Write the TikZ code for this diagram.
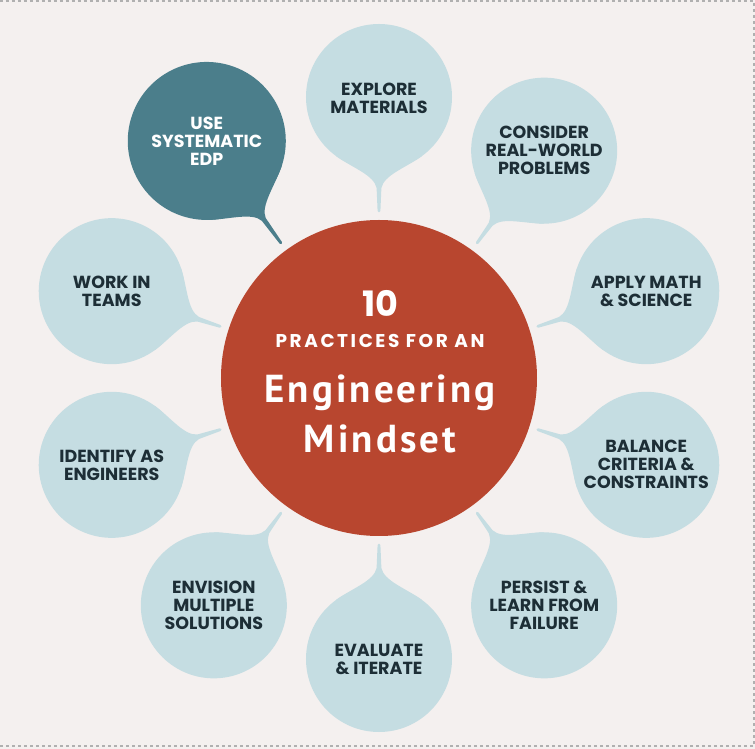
\documentclass[tikz,border=0pt]{standalone}
\usepackage{fontspec}
\newfontfamily\labfont{Poppins}
\newfontfamily\engfont{PT Sans}
\definecolor{bgc}{HTML}{F4F0EF}
\definecolor{light}{HTML}{C5DDE2}
\definecolor{dark}{HTML}{4B7E8B}
\definecolor{redc}{HTML}{B8462F}
\definecolor{ink}{HTML}{1D2E36}
\definecolor{dash}{HTML}{B0B0B0}
\tikzset{
  lab/.style={align=center, text=ink, font=\labfont\bfseries\fontsize{17.5}{18}\selectfont, inner sep=0pt},
  labw/.style={lab, text=white},
  border/.style={draw=dash, line width=1.4pt, dash pattern=on 3pt off 3pt},
  ctext/.style={anchor=base, text=white, inner sep=0pt},
}
% #1 angle, #2 distance, #3 radius, #4 colour
\newcommand\bubshape[4]{%
  \begin{scope}[shift={(#1:#2)}, rotate=#1+180]
    \fill[#4] (0,0) circle[radius=#3pt];
    \fill[#4] (36:#3) .. controls +(-54:20) and (#3+5,5) .. (#3+18,2.4)
      -- (#2-167,1.4) arc[start angle=90,end angle=-90,radius=1.4]
      -- (#3+18,-2.4) .. controls (#3+5,-5) and +(54:20) .. (-36:#3) -- cycle;
  \end{scope}}
\begin{document}
\begin{tikzpicture}[x=1pt,y=1pt]
  \useasboundingbox (-379,-371) rectangle (376,378);
  \fill[bgc] (-379,-371) rectangle (376,378);
  \draw[border] (-379,377) -- (375,377) -- (375,-368) -- (-379,-368);
  % centre
  \node[circle, fill=redc, minimum size=316pt, inner sep=0pt] (c) at (0,0) {};
  % bubbles
  \bubshape{90}{281}{73}{light}
  \bubshape{54}{281}{73}{light}
  \bubshape{18}{281}{73}{light}
  \bubshape{-18}{281}{73}{light}
  \bubshape{-54}{281}{73}{light}
  \bubshape{-90}{281}{73}{light}
  \bubshape{-126}{281}{73}{light}
  \bubshape{-162}{281}{73}{light}
  \bubshape{162}{281}{73}{light}
  \bubshape{126}{293}{79}{dark}
  \node[lab] (b1) at (90:280) {EXPLORE\\MATERIALS};
  \node[lab] (b2) at (54:281) {CONSIDER\\REAL-WORLD\\PROBLEMS};
  \node[lab] (b3) at (18:281) {APPLY MATH\\\& SCIENCE};
  \node[lab] (b4) at (-18:281) {BALANCE\\CRITERIA \&\\CONSTRAINTS};
  \node[lab] (b5) at (-54:281) {PERSIST \&\\LEARN FROM\\FAILURE};
  \node[lab] (b6) at (-90:281) {EVALUATE\\\& ITERATE};
  \node[lab] (b7) at (-126:281) {ENVISION\\MULTIPLE\\SOLUTIONS};
  \node[lab] (b8) at (-162:281) {IDENTIFY AS\\ENGINEERS};
  \node[lab] (b9) at (162:281) {WORK IN\\TEAMS};
  \node[labw] (b10) at (126:293) {USE\\SYSTEMATIC\\EDP};
  % centre text
  \node[ctext, font=\labfont\bfseries\fontsize{35}{40}\selectfont] (t1) at (1,61) {10};
  \node[ctext, font=\labfont\fontsize{18.5}{20}\selectfont\addfontfeatures{LetterSpace=14}\bfseries] (t2) at (1,30) {PRACTICES FOR AN};
  \node[ctext, font=\engfont\bfseries\fontsize{39}{40}\selectfont\addfontfeatures{LetterSpace=8}] (t3) at (1,-25) {Engineering};
  \node[ctext, font=\engfont\bfseries\fontsize{39}{40}\selectfont\addfontfeatures{LetterSpace=8}] (t4) at (1,-75) {Mindset};
\end{tikzpicture}
\end{document}
